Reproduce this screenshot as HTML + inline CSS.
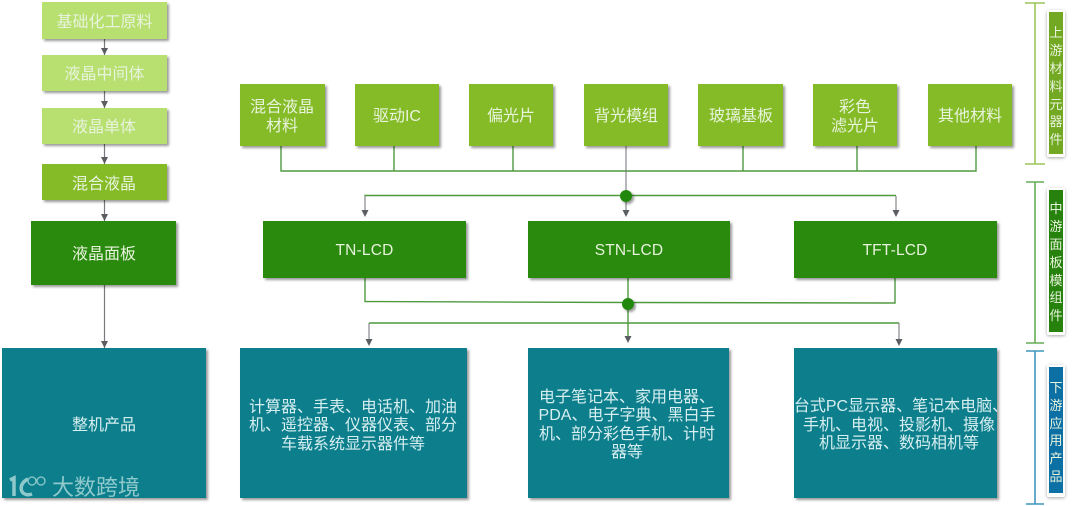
<!DOCTYPE html>
<html lang="zh"><head><meta charset="utf-8"><style>
html,body{margin:0;padding:0;background:#fff}
svg{display:block;filter:blur(.35px)}
text{font-family:"Liberation Sans","Noto Sans CJK SC",sans-serif;fill:#e8f3dc;text-anchor:middle;font-size:16px}
.v{font-size:13px}
.b{font-size:16px;fill:#d6eef0}
.l{font-size:15.500px;letter-spacing:.2px}
</style></head><body>
<svg width="1080" height="506" viewBox="0 0 1080 506" xmlns="http://www.w3.org/2000/svg">
<defs>
<filter id="s" x="-10%" y="-10%" width="125%" height="125%"><feDropShadow dx="2" dy="2" stdDeviation="1.2" flood-color="#000" flood-opacity=".4"/></filter>
<filter id="g" x="-60%" y="-10%" width="220%" height="125%"><feDropShadow dx="0" dy="1" stdDeviation="1.5" flood-color="#000" flood-opacity=".35"/></filter>
</defs>

<!-- left column connectors -->
<g stroke="#77797c" stroke-width="1.2" fill="none">
<path d="M104.500 39V55"/><path d="M104.500 91V108"/><path d="M104.500 144V164"/><path d="M104.500 200V221"/><path d="M104.500 285V348"/>
</g>
<g fill="#5a5d62">
<path d="M101 48h7l-3.500 7z"/><path d="M101 101h7l-3.500 7z"/><path d="M101 157h7l-3.500 7z"/><path d="M101 214h7l-3.500 7z"/><path d="M101 341h7l-3.500 7z"/>
</g>

<!-- left column boxes -->
<g filter="url(#s)">
<rect x="42" y="2" width="125" height="37" fill="#b8e070"/>
<rect x="42" y="55" width="125" height="36" fill="#b8e070"/>
<rect x="42" y="108" width="125" height="36" fill="#b8e070"/>
<rect x="42" y="164" width="125" height="36" fill="#85bb25"/>
<rect x="31" y="221" width="145" height="64" fill="#2b8a11"/>
<rect x="2" y="348" width="204" height="150" fill="#0e7f8c"/>
</g>
<text x="104.500" y="27">基础化工原料</text>
<text x="104.500" y="79">液晶中间体</text>
<text x="104" y="132">液晶单体</text>
<text x="104" y="189">混合液晶</text>
<text x="104" y="259">液晶面板</text>
<text x="104" y="430" class="b">整机产品</text>

<!-- top boxes connectors -->
<g stroke="#4f9a3f" stroke-width="1.4" fill="none">
<path d="M281 146V171H976V146"/><path d="M394 146V171"/><path d="M513 146V171"/><path d="M743 146V171"/><path d="M857 146V171"/>
<path d="M365 196V195.500H896"/>
<path d="M365 278V301.500L628 302.500L895 303V278"/>
<path d="M628 278V336"/>
<path d="M369 323H899"/>
</g>
<g stroke="#7a7c80" stroke-width="1.1" fill="none">
<path d="M626 146V196"/><path d="M626 196V212"/><path d="M365 196V211"/><path d="M896 196V211"/>
<path d="M369 323V340"/><path d="M899 323V340"/>
</g>
<g fill="#5a5d62">
<path d="M361.500 210h7l-3.500 7z"/><path d="M622.500 210h7l-3.500 7z"/><path d="M892.500 210h7l-3.500 7z"/>
<path d="M365.500 339h7l-3.500 7z"/><path d="M624.500 336h7l-3.500 7z"/><path d="M895.500 339h7l-3.500 7z"/>
</g>
<g filter="url(#s)" fill="#24880f">
<circle cx="626" cy="196" r="6"/>
<circle cx="628" cy="304" r="6"/>
</g>

<!-- top row -->
<g filter="url(#s)" fill="#85bb27">
<rect x="240" y="84" width="85" height="62"/>
<rect x="355" y="84" width="84" height="62"/>
<rect x="469" y="84" width="84" height="62"/>
<rect x="584" y="84" width="84" height="62"/>
<rect x="698" y="84" width="85" height="62"/>
<rect x="813" y="84" width="84" height="62"/>
<rect x="928" y="84" width="84" height="62"/>
</g>
<text x="282" y="112">混合液晶</text>
<text x="282" y="131">材料</text>
<text x="397" y="121">驱动IC</text>
<text x="511" y="121">偏光片</text>
<text x="626" y="121">背光模组</text>
<text x="741" y="121">玻璃基板</text>
<text x="855" y="112">彩色</text>
<text x="855" y="131">滤光片</text>
<text x="970" y="121">其他材料</text>

<!-- middle row -->
<g filter="url(#s)" fill="#2b8a11">
<rect x="263" y="221" width="203" height="57"/>
<rect x="528" y="221" width="202" height="57"/>
<rect x="794" y="221" width="203" height="57"/>
</g>
<text x="364.500" y="255" class="l">TN-LCD</text>
<text x="629" y="255" class="l">STN-LCD</text>
<text x="895" y="255" class="l">TFT-LCD</text>

<!-- bottom row -->
<g filter="url(#s)" fill="#0e7f8c">
<rect x="240" y="348" width="227" height="150"/>
<rect x="528" y="348" width="201" height="150"/>
<rect x="794" y="348" width="203" height="150"/>
</g>
<text x="353" y="412" class="b">计算器、手表、电话机、加油</text>
<text x="353" y="430" class="b">机、遥控器、仪器仪表、部分</text>
<text x="353" y="449" class="b">车载系统显示器件等</text>
<text x="627" y="402" class="b">电子笔记本、家用电器、</text>
<text x="627" y="420" class="b">PDA、电子字典、黑白手</text>
<text x="627" y="439" class="b">机、部分彩色手机、计时</text>
<text x="627" y="457" class="b">器等</text>
<text x="901" y="411" class="b">台式PC显示器、笔记本电脑、</text>
<text x="899" y="430" class="b">手机、电视、投影机、摄像</text>
<text x="899" y="448" class="b">机显示器、数码相机等</text>

<!-- watermark -->
<g fill="none" stroke="#8fc9cc" stroke-width="3.500">
<path d="M10 480L14 478V496"/><path d="M28 479C17 484 20 498 32 494"/>
</g>
<g fill="none" stroke="#8fc9cc" stroke-width="1.300">
<circle cx="32" cy="481" r="4"/><circle cx="41" cy="481" r="4"/>
</g>
<text x="96" y="495" style="font-size:22px;fill:#8fc9cc">大数跨境</text>

<!-- right brackets -->
<g stroke="#9cc65a" stroke-width="1.600" fill="none"><path d="M1025 3H1045M1035 3V164M1025 164H1045"/></g>
<g stroke="#66ad55" stroke-width="1.600" fill="none"><path d="M1026 182H1044M1035 182V343M1026 343H1044"/></g>
<g stroke="#4195bf" stroke-width="1.600" fill="none"><path d="M1026 351H1044M1035 351V504M1026 504H1044"/></g>

<g filter="url(#g)">
<rect x="1047" y="10" width="18" height="147" rx="2" fill="#fff"/>
<rect x="1049" y="12" width="14" height="142" fill="#72a822"/>
<rect x="1047" y="188" width="18" height="147" rx="2" fill="#fff"/>
<rect x="1049" y="190" width="14" height="142" fill="#268210"/>
<rect x="1047" y="365" width="18" height="132" rx="2" fill="#fff"/>
<rect x="1049" y="367" width="14" height="126" fill="#0a6fa5"/>
</g>
<text class="v" x="1056" y="37">上</text><text class="v" x="1056" y="55">游</text><text class="v" x="1056" y="73">材</text><text class="v" x="1056" y="91">料</text><text class="v" x="1056" y="109">元</text><text class="v" x="1056" y="126">器</text><text class="v" x="1056" y="144">件</text>
<text class="v" x="1056" y="213">中</text><text class="v" x="1056" y="231">游</text><text class="v" x="1056" y="249">面</text><text class="v" x="1056" y="267">板</text><text class="v" x="1056" y="285">模</text><text class="v" x="1056" y="302">组</text><text class="v" x="1056" y="320">件</text>
<text class="v" x="1056" y="392">下</text><text class="v" x="1056" y="410">游</text><text class="v" x="1056" y="428">应</text><text class="v" x="1056" y="445">用</text><text class="v" x="1056" y="463">产</text><text class="v" x="1056" y="481">品</text>
</svg>
</body></html>
